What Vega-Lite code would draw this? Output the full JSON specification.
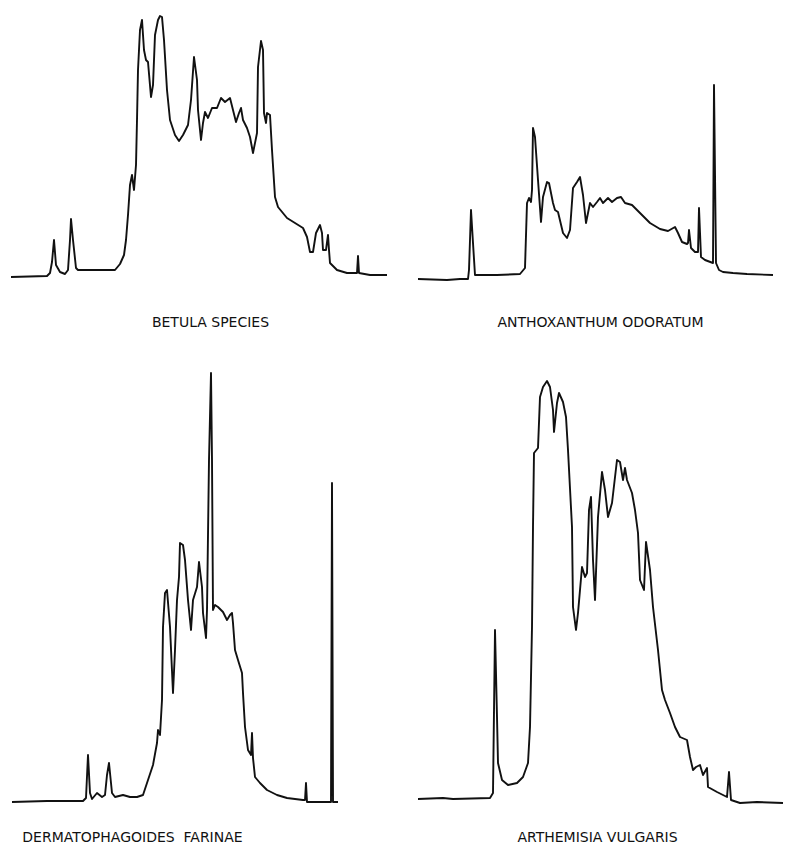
{
  "$schema": "https://vega.github.io/schema/vega-lite/v6.json",
  "padding": {"left": 10, "top": 12, "right": 0, "bottom": 0},
  "background": "white",
  "config": {
    "view": {"stroke": null},
    "axis": {"titleFont": "DejaVu Sans", "titleFontSize": 14, "titleFontWeight": "normal", "titleColor": "#111"}
  },
  "datasets": {
    "betula": [
      {"t":1,"s":3},{"t":37,"s":4},{"t":40,"s":7},{"t":42,"s":18},{"t":44,"s":40},{"t":46,"s":15},{"t":50,"s":8},{"t":55,"s":6},{"t":58,"s":10},{"t":60,"s":40},{"t":61,"s":61},{"t":63,"s":40},{"t":66,"s":12},{"t":68,"s":10},{"t":105,"s":10},{"t":110,"s":16},{"t":114,"s":25},{"t":116,"s":40},{"t":118,"s":65},{"t":120,"s":95},{"t":122,"s":105},{"t":124,"s":90},{"t":126,"s":115},{"t":127,"s":160},{"t":128,"s":210},{"t":130,"s":250},{"t":132,"s":260},{"t":134,"s":230},{"t":136,"s":220},{"t":138,"s":218},{"t":141,"s":183},{"t":143,"s":195},{"t":145,"s":245},{"t":148,"s":260},{"t":150,"s":264},{"t":152,"s":263},{"t":154,"s":240},{"t":157,"s":190},{"t":160,"s":160},{"t":165,"s":145},{"t":169,"s":139},{"t":173,"s":145},{"t":178,"s":155},{"t":181,"s":180},{"t":184,"s":223},{"t":187,"s":200},{"t":188,"s":170},{"t":191,"s":140},{"t":193,"s":157},{"t":195,"s":168},{"t":198,"s":162},{"t":202,"s":172},{"t":207,"s":172},{"t":211,"s":182},{"t":215,"s":178},{"t":220,"s":182},{"t":223,"s":170},{"t":226,"s":158},{"t":229,"s":167},{"t":231,"s":172},{"t":233,"s":160},{"t":237,"s":152},{"t":240,"s":143},{"t":243,"s":127},{"t":247,"s":147},{"t":248,"s":213},{"t":251,"s":239},{"t":253,"s":230},{"t":254,"s":167},{"t":256,"s":157},{"t":257,"s":167},{"t":260,"s":165},{"t":262,"s":130},{"t":265,"s":83},{"t":268,"s":73},{"t":277,"s":62},{"t":293,"s":52},{"t":297,"s":43},{"t":300,"s":28},{"t":303,"s":28},{"t":306,"s":47},{"t":310,"s":55},{"t":312,"s":47},{"t":313,"s":30},{"t":316,"s":30},{"t":318,"s":45},{"t":319,"s":30},{"t":320,"s":17},{"t":327,"s":10},{"t":337,"s":7},{"t":347,"s":7},{"t":348,"s":24},{"t":349,"s":7},{"t":360,"s":5},{"t":377,"s":5}
    ],
    "antho": [
      {"t":3,"s":1},{"t":32,"s":0},{"t":45,"s":1},{"t":53,"s":1},{"t":54,"s":10},{"t":56,"s":70},{"t":58,"s":37},{"t":60,"s":5},{"t":82,"s":5},{"t":105,"s":6},{"t":110,"s":12},{"t":112,"s":77},{"t":114,"s":82},{"t":116,"s":78},{"t":117,"s":90},{"t":118,"s":152},{"t":120,"s":143},{"t":123,"s":100},{"t":126,"s":58},{"t":128,"s":83},{"t":132,"s":98},{"t":134,"s":97},{"t":138,"s":77},{"t":140,"s":70},{"t":143,"s":68},{"t":148,"s":47},{"t":152,"s":42},{"t":155,"s":50},{"t":158,"s":92},{"t":162,"s":98},{"t":165,"s":103},{"t":168,"s":85},{"t":171,"s":57},{"t":175,"s":77},{"t":178,"s":73},{"t":182,"s":78},{"t":185,"s":82},{"t":188,"s":77},{"t":193,"s":82},{"t":197,"s":78},{"t":202,"s":82},{"t":206,"s":83},{"t":210,"s":77},{"t":217,"s":75},{"t":225,"s":67},{"t":235,"s":57},{"t":245,"s":51},{"t":253,"s":49},{"t":260,"s":53},{"t":263,"s":47},{"t":267,"s":38},{"t":272,"s":36},{"t":273,"s":37},{"t":274,"s":50},{"t":276,"s":32},{"t":280,"s":28},{"t":283,"s":28},{"t":284,"s":72},{"t":286,"s":23},{"t":290,"s":20},{"t":298,"s":17},{"t":299,"s":195},{"t":301,"s":17},{"t":304,"s":10},{"t":308,"s":8},{"t":318,"s":7},{"t":332,"s":6},{"t":358,"s":5}
    ],
    "dermato": [
      {"t":2,"s":1},{"t":37,"s":2},{"t":73,"s":2},{"t":76,"s":5},{"t":78,"s":48},{"t":80,"s":10},{"t":82,"s":4},{"t":87,"s":10},{"t":92,"s":6},{"t":95,"s":8},{"t":97,"s":28},{"t":99,"s":40},{"t":102,"s":10},{"t":105,"s":6},{"t":113,"s":8},{"t":120,"s":6},{"t":127,"s":6},{"t":133,"s":8},{"t":138,"s":23},{"t":143,"s":38},{"t":147,"s":60},{"t":148,"s":73},{"t":150,"s":68},{"t":152,"s":103},{"t":153,"s":176},{"t":155,"s":210},{"t":157,"s":213},{"t":160,"s":176},{"t":163,"s":110},{"t":165,"s":153},{"t":167,"s":203},{"t":169,"s":226},{"t":170,"s":260},{"t":173,"s":258},{"t":175,"s":243},{"t":178,"s":203},{"t":181,"s":173},{"t":183,"s":203},{"t":187,"s":216},{"t":189,"s":241},{"t":192,"s":216},{"t":193,"s":190},{"t":196,"s":165},{"t":197,"s":193},{"t":199,"s":343},{"t":201,"s":430},{"t":202,"s":343},{"t":203,"s":193},{"t":205,"s":198},{"t":208,"s":196},{"t":213,"s":191},{"t":217,"s":183},{"t":220,"s":188},{"t":222,"s":190},{"t":223,"s":180},{"t":225,"s":153},{"t":228,"s":143},{"t":232,"s":130},{"t":233,"s":110},{"t":235,"s":76},{"t":238,"s":53},{"t":241,"s":48},{"t":242,"s":70},{"t":243,"s":45},{"t":245,"s":26},{"t":250,"s":20},{"t":257,"s":13},{"t":267,"s":8},{"t":277,"s":5},{"t":293,"s":3},{"t":295,"s":3},{"t":296,"s":20},{"t":297,"s":1},{"t":321,"s":1},{"t":322,"s":320},{"t":323,"s":1},{"t":328,"s":1}
    ],
    "arthemisia": [
      {"t":3,"s":4},{"t":28,"s":5},{"t":38,"s":4},{"t":75,"s":5},{"t":78,"s":10},{"t":80,"s":173},{"t":82,"s":86},{"t":83,"s":40},{"t":87,"s":23},{"t":93,"s":18},{"t":102,"s":20},{"t":108,"s":26},{"t":113,"s":40},{"t":115,"s":76},{"t":117,"s":176},{"t":118,"s":276},{"t":119,"s":350},{"t":123,"s":355},{"t":125,"s":406},{"t":128,"s":416},{"t":132,"s":422},{"t":135,"s":416},{"t":138,"s":393},{"t":139,"s":371},{"t":142,"s":400},{"t":144,"s":410},{"t":148,"s":401},{"t":151,"s":386},{"t":153,"s":353},{"t":157,"s":276},{"t":158,"s":196},{"t":161,"s":173},{"t":163,"s":190},{"t":167,"s":236},{"t":170,"s":226},{"t":172,"s":230},{"t":174,"s":293},{"t":176,"s":306},{"t":178,"s":243},{"t":180,"s":203},{"t":183,"s":286},{"t":187,"s":331},{"t":190,"s":313},{"t":193,"s":286},{"t":197,"s":300},{"t":202,"s":343},{"t":205,"s":341},{"t":208,"s":323},{"t":210,"s":335},{"t":212,"s":323},{"t":217,"s":310},{"t":220,"s":293},{"t":223,"s":270},{"t":225,"s":223},{"t":229,"s":213},{"t":231,"s":261},{"t":235,"s":233},{"t":238,"s":196},{"t":243,"s":153},{"t":247,"s":113},{"t":250,"s":103},{"t":255,"s":90},{"t":260,"s":76},{"t":265,"s":66},{"t":272,"s":63},{"t":275,"s":46},{"t":278,"s":33},{"t":281,"s":36},{"t":285,"s":38},{"t":288,"s":28},{"t":292,"s":35},{"t":293,"s":16},{"t":302,"s":11},{"t":312,"s":6},{"t":314,"s":31},{"t":316,"s":3},{"t":325,"s":0},{"t":342,"s":1},{"t":368,"s":0}
    ]
  },
  "columns": 2,
  "bounds": "flush",
  "spacing": {"row": 82, "column": 25},
  "concat": [
    {
      "width": 380, "height": 268,
      "data": {"name": "betula"},
      "mark": {"type": "line", "color": "#111", "strokeWidth": 1.9, "strokeJoin": "round"},
      "encoding": {
        "x": {"field": "t", "type": "quantitative", "scale": {"domain": [0, 380], "nice": false, "zero": false},
              "axis": {"title": "BETULA SPECIES", "labels": false, "ticks": false, "domain": false, "grid": false, "titlePadding": 35, "titleX": 200}},
        "y": {"field": "s", "type": "quantitative", "scale": {"domain": [0, 268], "nice": false}, "axis": null}
      }
    },
    {
      "width": 370, "height": 268,
      "data": {"name": "antho"},
      "mark": {"type": "line", "color": "#111", "strokeWidth": 1.9, "strokeJoin": "round"},
      "encoding": {
        "x": {"field": "t", "type": "quantitative", "scale": {"domain": [0, 370], "nice": false, "zero": false},
              "axis": {"title": "ANTHOXANTHUM ODORATUM", "labels": false, "ticks": false, "domain": false, "grid": false, "titlePadding": 35, "titleX": 185}},
        "y": {"field": "s", "type": "quantitative", "scale": {"domain": [0, 268], "nice": false}, "axis": null}
      }
    },
    {
      "width": 380, "height": 441,
      "data": {"name": "dermato"},
      "mark": {"type": "line", "color": "#111", "strokeWidth": 1.9, "strokeJoin": "round"},
      "encoding": {
        "x": {"field": "t", "type": "quantitative", "scale": {"domain": [0, 380], "nice": false, "zero": false},
              "axis": {"title": "DERMATOPHAGOIDES\u00a0\u00a0FARINAE", "labels": false, "ticks": false, "domain": false, "grid": false, "titlePadding": 27, "titleX": 122}},
        "y": {"field": "s", "type": "quantitative", "scale": {"domain": [0, 441], "nice": false}, "axis": null}
      }
    },
    {
      "width": 370, "height": 441,
      "data": {"name": "arthemisia"},
      "mark": {"type": "line", "color": "#111", "strokeWidth": 1.9, "strokeJoin": "round"},
      "encoding": {
        "x": {"field": "t", "type": "quantitative", "scale": {"domain": [0, 370], "nice": false, "zero": false},
              "axis": {"title": "ARTHEMISIA VULGARIS", "labels": false, "ticks": false, "domain": false, "grid": false, "titlePadding": 27, "titleX": 182}},
        "y": {"field": "s", "type": "quantitative", "scale": {"domain": [0, 441], "nice": false}, "axis": null}
      }
    }
  ]
}
